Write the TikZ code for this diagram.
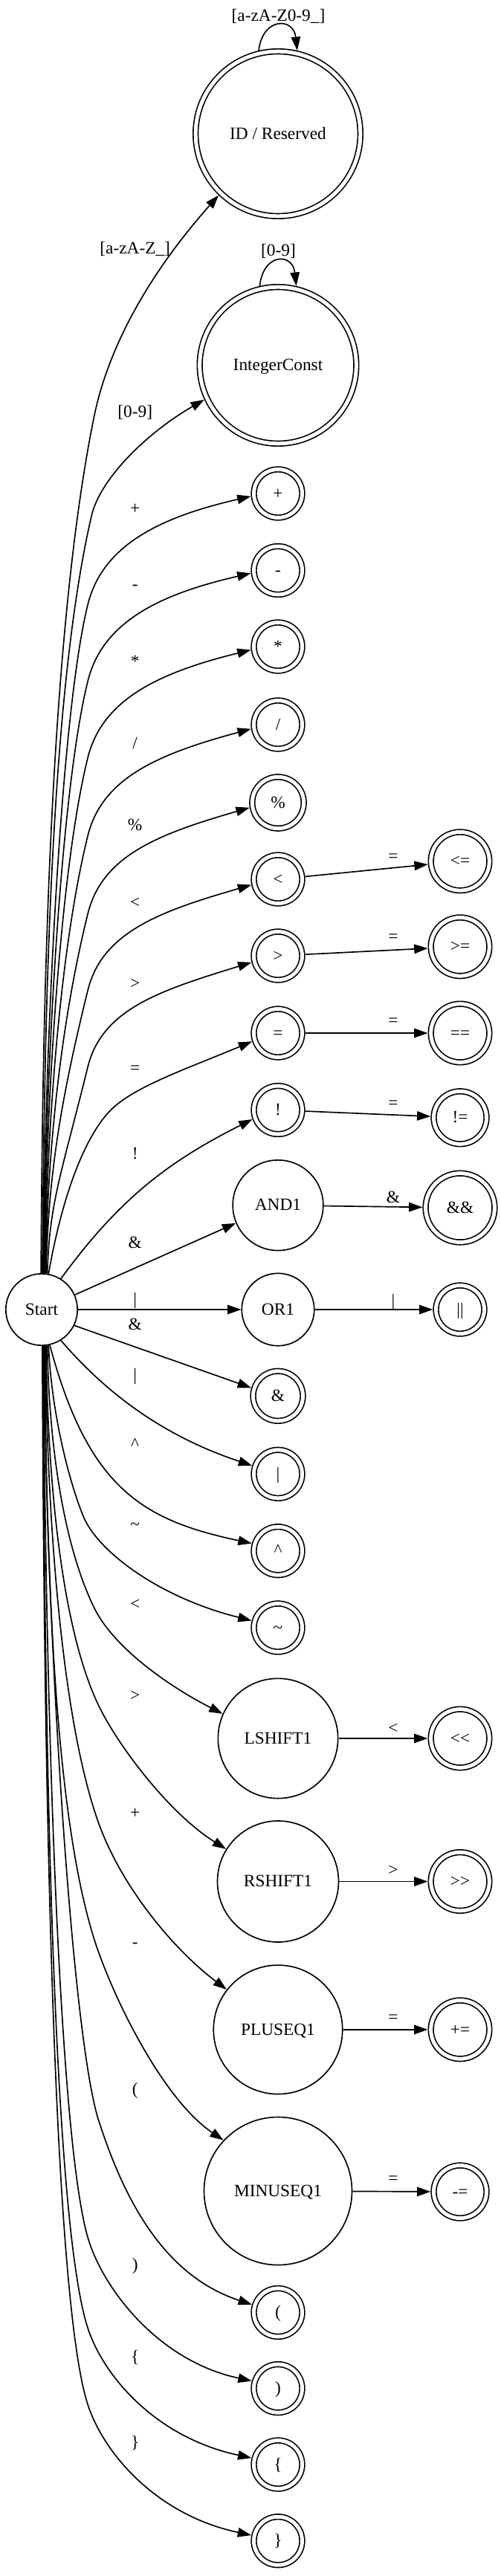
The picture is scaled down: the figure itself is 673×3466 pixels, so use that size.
\documentclass[tikz,border=0pt]{standalone}
\usepackage{fontspec}
\setmainfont{Liberation Serif}
\usetikzlibrary{arrows.meta}
\newcommand{\gvfont}{\fontsize{14}{17}\selectfont}

\begin{document}
\begin{tikzpicture}[x=0.6pt, y=-0.6pt,
    state/.style={circle, draw, line width=1pt, inner sep=0pt, outer sep=0.5pt, font=\gvfont, text height=11pt, text depth=2.4pt},
    acc/.style={state, double, double distance=3pt, outer sep=2.5pt},
    trans/.style={line width=1pt, -{Triangle[length=11pt, width=7.5pt]}},
    lbl/.style={font=\gvfont, inner sep=0pt}]
    \path[use as bounding box, fill=white] (0,0) rectangle (673,3466);

    \node[state, minimum size=57.8pt] (start) at (56,1762) {Start};
    \node[acc, minimum size=133pt] (id) at (374,180) {ID / Reserved};
    \node[acc, minimum size=126.4pt] (ic) at (374,491.5) {IntegerConst};
    \node[acc, minimum size=39pt] (plus) at (374,664) {+};
    \node[acc, minimum size=39pt] (minus) at (374,767.5) {-};
    \node[acc, minimum size=39pt] (star) at (374,870) {*};
    \node[acc, minimum size=39pt] (slash) at (374,975) {/};
    \node[acc, minimum size=41.6pt] (percent) at (374,1080) {\%};
    \node[acc, minimum size=39pt] (lt) at (374,1183) {<};
    \node[acc, minimum size=39pt] (gt) at (374,1286) {>};
    \node[acc, minimum size=39pt] (eq) at (374,1390) {=};
    \node[acc, minimum size=39pt] (bang) at (374,1493.5) {!};
    \node[state, minimum size=73pt] (and1) at (374,1621.7) {AND1};
    \node[state, minimum size=58.5pt] (or1) at (374,1762) {OR1};
    \node[acc, minimum size=40.2pt] (amp) at (374,1878.3) {\&};
    \node[acc, minimum size=39pt] (bar) at (374,1983.3) {|};
    \node[acc, minimum size=39pt] (caret) at (374,2086.7) {\textasciicircum};
    \node[acc, minimum size=39pt] (tilde) at (374,2190) {\textasciitilde};
    \node[state, minimum size=96.8pt] (lshift) at (374,2339) {LSHIFT1};
    \node[state, minimum size=97.8pt] (rshift) at (374,2531.5) {RSHIFT1};
    \node[state, minimum size=104.1pt] (pluseq) at (374,2730.8) {PLUSEQ1};
    \node[state, minimum size=119.4pt] (minuseq) at (374,2948) {MINUSEQ1};
    \node[acc, minimum size=39pt] (lpar) at (374,3111.4) {(};
    \node[acc, minimum size=39pt] (rpar) at (374,3213.6) {)};
    \node[acc, minimum size=39pt] (lbrace) at (374,3316) {\{};
    \node[acc, minimum size=39pt] (rbrace) at (374,3418.7) {\}};

    \node[acc, minimum size=47.2pt] (le) at (619,1158.8) {<=};
    \node[acc, minimum size=47.2pt] (ge) at (619,1273.8) {>=};
    \node[acc, minimum size=47.2pt] (eqeq) at (619,1390) {==};
    \node[acc, minimum size=42.6pt] (ne) at (619,1503.8) {!=};
    \node[acc, minimum size=55.7pt] (andand) at (619,1625) {\&\&};
    \node[acc, minimum size=39pt] (oror) at (619,1762) {||};
    \node[acc, minimum size=47.2pt] (shl) at (619,2339) {<\kern0pt<};
    \node[acc, minimum size=47.2pt] (shr) at (619,2531.5) {>\kern0pt>};
    \node[acc, minimum size=47.2pt] (addeq) at (619,2730.8) {+=};
    \node[acc, minimum size=42.6pt] (subeq) at (619,2949) {-=};

    \draw[trans] (id.103) .. controls +(5,-45) and +(-5,-45) .. (id.77);
    \draw[trans] (ic.103) .. controls +(5,-45) and +(-5,-45) .. (ic.77);
    \node[lbl] (lid) at (374.5,22) {[a-zA-Z0-9\_]};
    \node[lbl] (lic) at (374.5,338) {[0-9]};

    \draw[trans] (start.91) .. controls +(2,-363) and +(-60,294) .. (126.7,560) .. controls +(16,-78.4) and +(-106.1,119.8) .. (id.226);
    \draw[trans] (start.89) .. controls +(3,-330) and +(-56.8,243.5) .. (123.3,693.3) .. controls +(11.4,-48.7) and +(-77.9,45) .. (ic.205);
    \draw[trans] (start.88) .. controls +(3,-315) and +(-36,146) .. (118,814) .. controls +(19,-78) and +(-127,29) .. (plus.186);
    \draw[trans] (start.87) .. controls +(3,-279) and +(-36,146) .. (118,917) .. controls +(19,-78) and +(-127,29) .. (minus.186);
    \draw[trans] (start.86) .. controls +(3,-243) and +(-36,146) .. (118,1020) .. controls +(19,-78) and +(-126,31) .. (star.187);
    \draw[trans] (start.85) .. controls +(3,-206) and +(-36,146) .. (118,1125) .. controls +(19,-78) and +(-126,34) .. (slash.189);
    \draw[trans] (start.84) .. controls +(3,-169) and +(-36,146) .. (118,1230) .. controls +(19,-78) and +(-125,36) .. (percent.190);
    \draw[trans] (start.83) .. controls +(3,-133) and +(-36,146) .. (118,1333) .. controls +(19,-78) and +(-125,36) .. (lt.192);
    \draw[trans] (start.81) .. controls +(3,-97) and +(-36,146) .. (118,1436) .. controls +(19,-78) and +(-124,38) .. (gt.194);
    \draw[trans] (start.79) .. controls +(13.6,-78.8) and +(-38.6,46) .. (143,1500) .. controls +(28.9,-34.5) and +(-101.6,42.1) .. (eq.198);
    \draw[trans] (start.58) .. controls +(76.7,-104.9) and +(-116.2,58.3) .. (bang.200);
    \draw[trans] (start.24) -- (and1.203);
    \draw[trans] (start) -- (or1);
    \draw[trans] (start.-26) -- (amp.163);
    \draw[trans] (start.-58) .. controls +(71.6,83.5) and +(-104.4,-34.8) .. (bar.162);
    \draw[trans] (start.-77) .. controls +(51.8,193.2) and +(-146.7,-31.2) .. (caret.164);
    \draw[trans] (start.-79) .. controls +(3,80) and +(-22.5,-55.6) .. (112,2040) .. controls +(18.8,46.4) and +(-126.1,-31.5) .. (tilde.165);
    \draw[trans] (start.-81) .. controls +(2,123) and +(-43.8,-89.9) .. (126.7,2163.3) .. controls +(26.3,53.9) and +(-71.3,-36.3) .. (lshift.156);
    \draw[trans] (start.-83) .. controls +(2,170) and +(-52.6,-107.9) .. (133.3,2296) .. controls +(26.3,53.9) and +(-76.3,-47.7) .. (rshift.148);
    \draw[trans] (start.-84) .. controls +(2,225) and +(-51.3,-141) .. (133.3,2454.6) .. controls +(30.8,84.6) and +(-71.9,-54.2) .. (pluseq.142);
    \draw[trans] (start.-85) .. controls +(2,286) and +(-61.6,-169.2) .. (133.3,2628.5) .. controls +(30.8,84.6) and +(-74.6,-50.3) .. (minuseq.137);
    \draw[trans] (start.-86) .. controls +(2,365) and +(-37.1,-114.1) .. (133,2854) .. controls +(30.9,95.1) and +(-123.6,-40.2) .. (lpar.163);
    \draw[trans] (start.-87) .. controls +(2,420) and +(-41.4,-144.2) .. (118,3010) .. controls +(19.3,67.3) and +(-127.1,-27) .. (rpar.164);
    \draw[trans] (start.-88) .. controls +(2,462) and +(-49.4,-152.2) .. (118,3132) .. controls +(21.6,66.6) and +(-127.1,-27) .. (lbrace.166);
    \draw[trans] (start.-89) .. controls +(2,498) and +(-49.4,-152.2) .. (118,3235) .. controls +(21.6,66.6) and +(-127.1,-27) .. (rbrace.168);

    \draw[trans] (lt) -- (le);
    \draw[trans] (gt) -- (ge);
    \draw[trans] (eq) -- (eqeq);
    \draw[trans] (bang) -- (ne);
    \draw[trans] (and1) -- (andand);
    \draw[trans] (or1) -- (oror);
    \draw[trans] (lshift) -- (shl);
    \draw[trans] (rshift) -- (shr);
    \draw[trans] (pluseq) -- (addeq);
    \draw[trans] (minuseq) -- (subeq);

    \node[lbl] (lbid) at (181.7,335) {[a-zA-Z\_]};
    \node[lbl] (lbic) at (181.7,555) {[0-9]};
    \node[lbl] (lbplus) at (181.7,685) {+};
    \node[lbl] (lbminus) at (181.7,790) {-};
    \node[lbl] (lbstar) at (181.7,890) {*};
    \node[lbl] (lbslash) at (181.7,1000) {/};
    \node[lbl] (lbpercent) at (181.7,1109.6) {\%};
    \node[lbl] (lblt) at (181.7,1215) {<};
    \node[lbl] (lbgt) at (181.7,1324) {>};
    \node[lbl] (lbeq) at (181.7,1439.3) {=};
    \node[lbl] (lbbang) at (181.7,1551.7) {!};
    \node[lbl] (lband) at (181.7,1671.7) {\&};
    \node[lbl] (lbor) at (181.7,1750) {|};
    \node[lbl] (lbamp) at (181.7,1781.7) {\&};
    \node[lbl] (lbbar) at (181.7,1851.7) {|};
    \node[lbl] (lbcaret) at (181.7,1943.3) {\textasciicircum};
    \node[lbl] (lbtilde) at (181.7,2053.3) {\textasciitilde};
    \node[lbl] (lblshift) at (181.7,2158.3) {<};
    \node[lbl] (lbrshift) at (181.7,2281.7) {>};
    \node[lbl] (lbpluseq) at (181.7,2440) {+};
    \node[lbl] (lbminuseq) at (181.7,2617) {-};
    \node[lbl] (lblpar) at (181.7,2812.7) {(};
    \node[lbl] (lbrpar) at (181.7,3049) {)};
    \node[lbl] (lblbrace) at (181.7,3172) {\{};
    \node[lbl] (lbrbrace) at (181.7,3287.4) {\}};

    \node[lbl] (lble) at (529,1153.8) {=};
    \node[lbl] (lbge) at (529,1262) {=};
    \node[lbl] (lbeqeq) at (529,1375) {=};
    \node[lbl] (lbne) at (529,1486.5) {=};
    \node[lbl] (lbandand) at (529,1610.8) {\&};
    \node[lbl] (lboror) at (529,1752) {|};
    \node[lbl] (lbshl) at (529,2326) {<};
    \node[lbl] (lbshr) at (529,2516.5) {>};
    \node[lbl] (lbaddeq) at (529,2716.5) {=};
    \node[lbl] (lbsubeq) at (529,2933.5) {=};
\end{tikzpicture}
\end{document}
